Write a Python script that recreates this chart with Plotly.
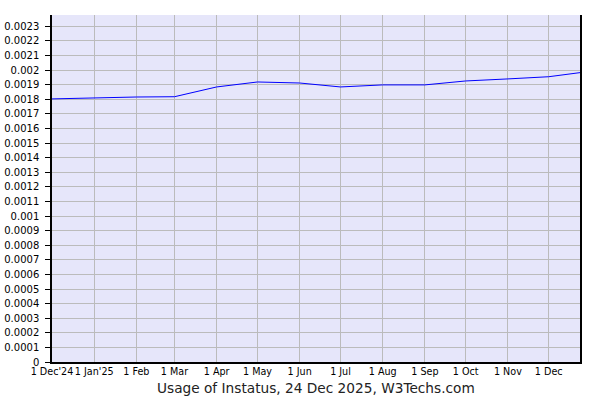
import plotly.graph_objects as go

# Monthly usage share of Instatus (fraction of all websites)
dates = ['2024-12-01', '2025-01-01', '2025-02-01', '2025-03-01', '2025-04-01',
         '2025-05-01', '2025-06-01', '2025-07-01', '2025-08-01', '2025-09-01',
         '2025-10-01', '2025-11-01', '2025-12-01', '2025-12-24']
usage = [0.001803, 0.00181, 0.001816, 0.001818, 0.001885,
         0.001919, 0.001912, 0.001885, 0.001899, 0.001899,
         0.001926, 0.00194, 0.001955, 0.001983]

x_tick_vals = ['2024-12-01', '2025-01-01', '2025-02-01', '2025-03-01', '2025-04-01',
               '2025-05-01', '2025-06-01', '2025-07-01', '2025-08-01', '2025-09-01',
               '2025-10-01', '2025-11-01', '2025-12-01']
x_tick_text = ["1 Dec'24", "1 Jan'25", '1 Feb', '1 Mar', '1 Apr', '1 May', '1 Jun',
               '1 Jul', '1 Aug', '1 Sep', '1 Oct', '1 Nov', '1 Dec']

y_tick_vals = [i / 10000 for i in range(24)]
y_tick_text = ['0', '0.0001', '0.0002', '0.0003', '0.0004', '0.0005', '0.0006',
               '0.0007', '0.0008', '0.0009', '0.001', '0.0011', '0.0012', '0.0013',
               '0.0014', '0.0015', '0.0016', '0.0017', '0.0018', '0.0019', '0.002',
               '0.0021', '0.0022', '0.0023']

fig = go.Figure()
fig.add_trace(go.Scatter(x=dates, y=usage, mode='lines',
                         line=dict(color='#0000ff', width=1), showlegend=False))

fig.update_xaxes(
    range=['2024-12-01', '2025-12-24'],
    tickvals=x_tick_vals, ticktext=x_tick_text, tickangle=0,
    showgrid=True, gridcolor='#bbbbbb', gridwidth=1,
    showline=True, linecolor='black', linewidth=1.5,
    ticks='', tickfont=dict(family='DejaVu Sans', size=9.6, color='black'),
    zeroline=False, automargin=False
)
fig.update_yaxes(
    range=[0, 0.002378],
    tickvals=y_tick_vals, ticktext=y_tick_text,
    showgrid=True, gridcolor='#bbbbbb', gridwidth=1,
    showline=True, linecolor='black', linewidth=1.5, mirror=True,
    ticks='outside', ticklen=5, tickcolor='black', ticklabelstandoff=4,
    tickfont=dict(family='DejaVu Sans', size=10, color='black'),
    zeroline=False, automargin=False
)

fig.add_annotation(
    text='Usage of Instatus, 24 Dec 2025, W3Techs.com',
    xref='paper', yref='paper', x=0.5, y=-0.045,
    xanchor='center', yanchor='top', showarrow=False,
    font=dict(family='DejaVu Sans', size=13.7, color='#222222')
)

fig.update_layout(
    width=600, height=400,
    margin=dict(l=52, r=20, t=15, b=38),
    plot_bgcolor='#e6e6fa', paper_bgcolor='white'
)

# drop the page's default body margin so the figure sits at the window corner
fig.write_html('out.html', config={'displayModeBar': False},
               post_script="document.body.style.margin='0px';")
